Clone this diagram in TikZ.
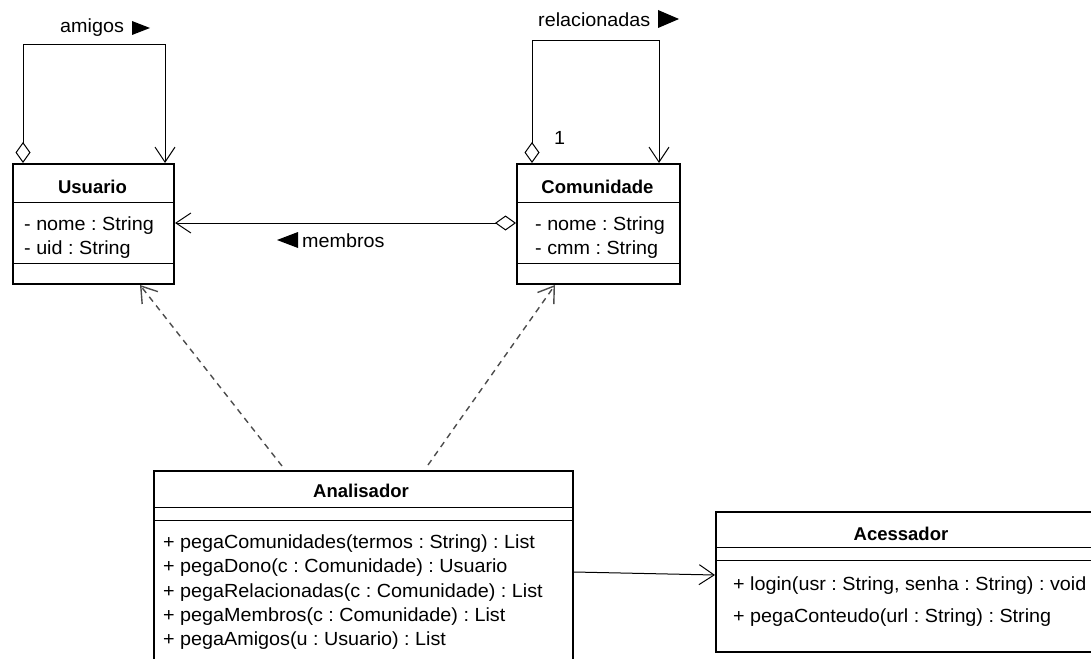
\documentclass[tikz,border=0pt]{standalone}
\usepackage{fontspec}
\setmainfont{Liberation Sans}
\newfontfamily\memfont{Liberation Sans}[FakeStretch=1.04]
\usetikzlibrary{arrows.meta,calc}
\begin{document}
\frenchspacing
\begin{tikzpicture}[x=1pt,y=-1pt,
  cls/.style={draw, line width=2pt, rectangle, anchor=north west, inner sep=0pt},
  sepline/.style={line width=1pt},
  ttl/.style={font=\fontsize{18.5}{22}\selectfont\bfseries, inner sep=0pt, anchor=base},
  mem/.style={font=\memfont\fontsize{19}{23}\selectfont, inner sep=0pt, anchor=base west},
  conn/.style={line width=1pt},
  openarrow/.style={-{Straight Barb[length=15pt,width=20pt]}},
  aggarrow/.style={{Diamond[open,length=21pt,width=15pt]}-{Straight Barb[length=15pt,width=20pt]}},
  depline/.style={line width=1.4pt, draw=black!70, dash pattern=on 6pt off 5pt},
]
\useasboundingbox (0,0) rectangle (1091,658);
\clip (0,0) rectangle (1091,658);
\fill[white] (0,0) rectangle (1091,658);

% classes
\node[cls, minimum width=161pt, minimum height=120pt] (usuario) at (12,163) {};
\node[cls, minimum width=163pt, minimum height=120pt] (comunidade) at (516,163) {};
\node[cls, minimum width=419pt, minimum height=220pt] (analisador) at (153,470) {};
\node[cls, minimum width=380pt, minimum height=140pt] (acessador) at (715,511) {};

% separators
\draw[sepline] ([yshift=-39pt]usuario.north west) -- ([yshift=-39pt]usuario.north east);
\draw[sepline] ([yshift=-100pt]usuario.north west) -- ([yshift=-100pt]usuario.north east);
\draw[sepline] ([yshift=-39pt]comunidade.north west) -- ([yshift=-39pt]comunidade.north east);
\draw[sepline] ([yshift=-100pt]comunidade.north west) -- ([yshift=-100pt]comunidade.north east);
\draw[sepline] ([yshift=-37pt]analisador.north west) -- ([yshift=-37pt]analisador.north east);
\draw[sepline] ([yshift=-50pt]analisador.north west) -- ([yshift=-50pt]analisador.north east);
\draw[sepline] ([yshift=-36pt]acessador.north west) -- ([yshift=-36pt]acessador.north east);
\draw[sepline] ([yshift=-49pt]acessador.north west) -- ([yshift=-49pt]acessador.north east);

% titles
\node[ttl] (usuarioT) at (92.5,193) {Usuario};
\node[ttl] (comunidadeT) at (597.5,193) {Comunidade};
\node[ttl] (analisadorT) at (361,497) {Analisador};
\node[ttl] (acessadorT) at (901,540) {Acessador};

% members
\node[mem] (u1) at (24,230) {- nome : String};
\node[mem] (u2) at (24,254) {- uid : String};
\node[mem] (c1) at (535,230) {- nome : String};
\node[mem] (c2) at (535,254) {- cmm : String};
\node[mem] (a1) at (163,548) {+ pegaComunidades(termos : String) : List};
\node[mem] (a2) at (163,572) {+ pegaDono(c : Comunidade) : Usuario};
\node[mem] (a3) at (163,597) {+ pegaRelacionadas(c : Comunidade) : List};
\node[mem] (a4) at (163,621) {+ pegaMembros(c : Comunidade) : List};
\node[mem] (a5) at (163,645) {+ pegaAmigos(u : Usuario) : List};
\node[mem] (s1) at (733,590) {+ login(usr : String, senha : String) : void};
\node[mem] (s2) at (733,622) {+ pegaConteudo(url : String) : String};

% self associations
\draw[conn, aggarrow] ([xshift=11pt]usuario.north west) -- ++(0,-118) -| ([xshift=-10pt]usuario.north east);
\node[mem] (amigosL) at (60,33) {amigos};
\fill (132,21) -- (150,28) -- (132,35) -- cycle;

\draw[conn, aggarrow] ([xshift=16pt]comunidade.north west) -- ++(0,-122) -| ([xshift=-22pt]comunidade.north east);
\node[mem] (relL) at (538,27) {relacionadas};
\fill (658,10) -- (679,19) -- (658,28) -- cycle;
\node[mem] (mult) at (554,144) {1};

% membros
\draw[conn, aggarrow] (comunidade.west |- 0,223) -- (usuario.east |- 0,223);
\fill (277,240) -- (298,232) -- (298,248) -- cycle;
\node[mem] (membrosL) at (302,247) {membros};

% analisador -> acessador
\draw[conn, openarrow] (analisador.north east |- 0,572) -- (acessador.west |- 0,575);

% dependencies
\draw[depline, openarrow] ([xshift=129pt,yshift=4pt]analisador.north west) -- ([xshift=128pt]usuario.south west);
\draw[depline, openarrow] ([xshift=275pt,yshift=5pt]analisador.north west) -- ([xshift=39pt]comunidade.south west);
\end{tikzpicture}
\end{document}
